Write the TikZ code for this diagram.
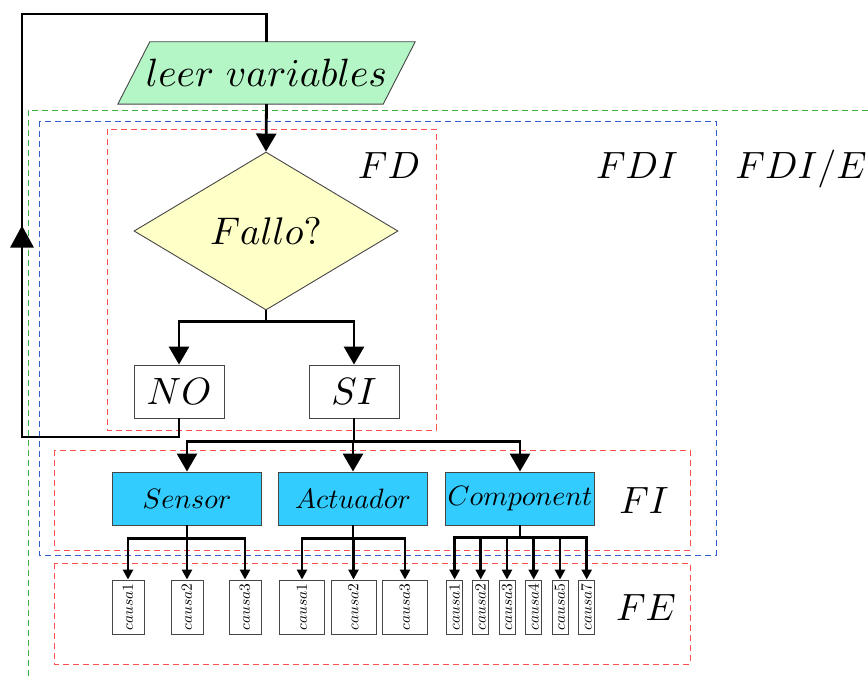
\RequirePackage{fix-cm}
\documentclass[tikz,border=0pt]{standalone}
\usepackage{graphicx}
\usetikzlibrary{shapes.geometric,arrows.meta,decorations.markings}

% scale the 10pt design sizes of the math fonts to every size
\DeclareFontShape{OML}{cmm}{m}{it}{<->cmmi10}{\skewchar\font127 }
\DeclareFontShape{OT1}{cmr}{m}{n}{<->cmr10}{}

\definecolor{readgreen}{RGB}{180,246,197}
\definecolor{askyellow}{RGB}{255,255,200}
\definecolor{groupcyan}{RGB}{51,204,255}
\definecolor{zonered}{RGB}{255,80,80}
\definecolor{zoneblue}{RGB}{50,95,205}
\definecolor{zonegreen}{RGB}{60,175,60}
\definecolor{edgegray}{RGB}{70,70,70}

\tikzset{
  flow/.style={line width=2.8pt, draw=black},
  bigarrow/.style={flow, -{Triangle[width=20pt,length=18pt]}},
  smallarrow/.style={flow, -{Triangle[width=10pt,length=10pt]}},
  zone/.style={line width=1pt, dash pattern=on 6pt off 4pt},
  plainbox/.style={draw=edgegray, line width=0.9pt, fill=white, inner sep=0pt},
  groupbox/.style={draw=edgegray, line width=0.9pt, fill=groupcyan, inner sep=0pt,
    minimum width=149pt, minimum height=53pt, font=\fontsize{28}{31}\selectfont},
  causebox/.style={draw=edgegray, line width=0.9pt, fill=white, inner sep=0pt,
    minimum height=54pt, font=\fontsize{15.5}{17}\selectfont},
  zonelabel/.style={anchor=base, font=\fontsize{38}{41}\selectfont},
}

\begin{document}
\begin{tikzpicture}[x=1pt,y=-1pt]
\useasboundingbox (0,0) rectangle (868,677);

% nested zones (dashed)
\draw[zone, zonegreen] (868,110) -- (28,110) -- (28,677);
\draw[zone, zoneblue] (39,121) rectangle (716,555);
\draw[zone, zonered] (107,129) rectangle (436,430);
\draw[zone, zonered] (54,450) rectangle (690,550);
\draw[zone, zonered] (54,563) rectangle (690,664);

% zone labels
\node[zonelabel] (lfd)  at (389,178) {$FD$};
\node[zonelabel] (lfdi) at (637,178) {$FDI$};
\node[zonelabel] (lfdie) at (801,178) {$FDI/E$};
\node[zonelabel] (lfi)  at (644,513) {$FI$};
\node[zonelabel] (lfe)  at (646,620) {$FE$};

% input parallelogram
\node[minimum width=265pt, minimum height=62pt, inner sep=0pt] (read) at (266.5,73) {};
\filldraw[fill=readgreen, draw=edgegray, line width=0.9pt]
  ([xshift=16pt]read.north west) -- ([xshift=16pt]read.north east)
  -- ([xshift=-16pt]read.south east) -- ([xshift=-16pt]read.south west) -- cycle;
\node[font=\fontsize{39.5}{42}\selectfont] (readtxt) at (read.center) {$leer\ variables$};

% decision
\node[diamond, draw=edgegray, line width=0.9pt, fill=askyellow, inner sep=0pt,
  minimum width=264pt, minimum height=158pt, font=\fontsize{38.5}{42}\selectfont]
  (fallo) at (266,231) {$Fallo?$};

\node[plainbox, minimum width=90pt, minimum height=53pt, font=\fontsize{38}{41}\selectfont]
  (no) at (179,391.5) {$NO$};
\node[plainbox, minimum width=90pt, minimum height=53pt, font=\fontsize{38}{41}\selectfont]
  (si) at (354,391.5) {$SI$};

% isolation groups
\node[groupbox] (sensor) at (187,498.5) {$Sensor$};
\node[groupbox] (actuador) at (353,498.5) {$Actuador$};
\node[groupbox] (component) at (520,498.5) {$Component$};

% causes
\node[causebox, minimum width=32pt] (s1) at (128,607) {\rotatebox{90}{$causa1$}};
\node[causebox, minimum width=32pt] (s2) at (187,607) {\rotatebox{90}{$causa2$}};
\node[causebox, minimum width=32pt] (s3) at (245,607) {\rotatebox{90}{$causa3$}};

\node[causebox, minimum width=45pt] (a1) at (302,607) {\rotatebox{90}{$causa1$}};
\node[causebox, minimum width=45pt] (a2) at (353.5,607) {\rotatebox{90}{$causa2$}};
\node[causebox, minimum width=45pt] (a3) at (405,607) {\rotatebox{90}{$causa3$}};

\node[causebox, minimum width=16pt] (c1) at (454.6,607) {\rotatebox{90}{$causa1$}};
\node[causebox, minimum width=16pt] (c2) at (480.7,607) {\rotatebox{90}{$causa2$}};
\node[causebox, minimum width=16pt] (c3) at (507,607) {\rotatebox{90}{$causa3$}};
\node[causebox, minimum width=16pt] (c4) at (533.7,607) {\rotatebox{90}{$causa4$}};
\node[causebox, minimum width=16pt] (c5) at (560,607) {\rotatebox{90}{$causa5$}};
\node[causebox, minimum width=16pt] (c7) at (586.7,607) {\rotatebox{90}{$causa7$}};

% main flow
\draw[bigarrow] (read.south) -- (fallo.north);
\draw[bigarrow] (fallo.south) -- ++(0,11) -| (no.north);
\draw[bigarrow] (fallo.south) -- ++(0,11) -| (si.north);

\draw[bigarrow] (si.south) -- ++(0,23) -| (sensor.north);
\draw[bigarrow] (si.south) -- ++(0,23) -| (actuador.north);
\draw[bigarrow] (si.south) -- ++(0,23) -| (component.north);

% feedback loop from NO back to the input
\coordinate (loopa) at (22,437);
\coordinate (loopb) at (22,14);
\draw[flow, line join=miter] (no.south) |- (loopa) -- (loopb) -| (read.north);
\draw[flow, decoration={markings, mark=at position 0.5 with {\arrow{Triangle[width=23pt,length=22pt]}}},
  postaction={decorate}] (loopa) -- (loopb);

% cause branches
\foreach \c in {s1,s2,s3}
  \draw[smallarrow] (sensor.south) -- ++(0,13) -| (\c.north);
\foreach \c in {a1,a2,a3}
  \draw[smallarrow] (actuador.south) -- ++(0,13) -| (\c.north);
\foreach \c in {c1,c2,c3,c4,c5,c7}
  \draw[smallarrow] (component.south) -- ++(0,12) -| (\c.north);
\end{tikzpicture}
\end{document}
